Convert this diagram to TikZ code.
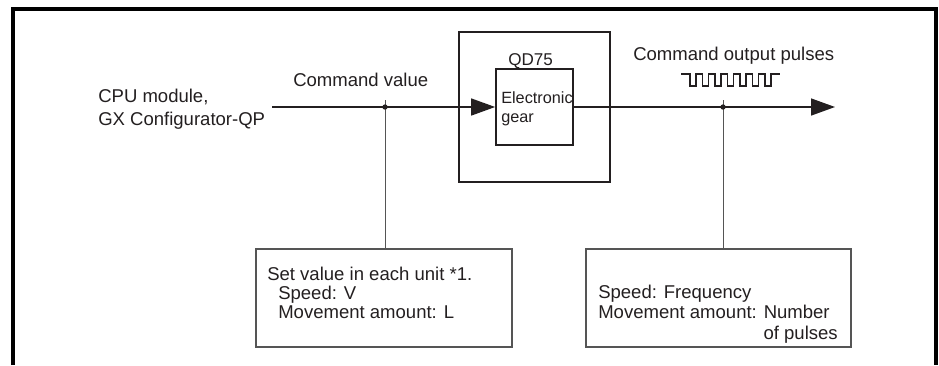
\documentclass[tikz,border=0pt]{standalone}
\usepackage{fontspec}
\setmainfont{Liberation Sans}
\usetikzlibrary{arrows.meta}
\definecolor{ink}{HTML}{231F20}
\definecolor{thin}{HTML}{555555}
\begin{document}
\begin{tikzpicture}[x=0.75pt,y=-0.75pt,
  txt/.style={anchor=base west, inner sep=0pt, text=ink, font=\fontsize{13.9}{16}\selectfont},
  smalltxt/.style={anchor=base west, inner sep=0pt, text=ink, font=\fontsize{12.2}{14}\selectfont},
  boxouter/.style={draw=ink, line width=1.4pt, minimum width=151*0.75pt, minimum height=150*0.75pt, inner sep=0pt},
  boxinner/.style={draw=ink, line width=1.3pt, minimum width=77*0.75pt, minimum height=76*0.75pt, inner sep=0pt},
  notebox/.style={draw=thin, line width=0.8pt, minimum height=98*0.75pt, inner sep=0pt},
  mainline/.style={draw=ink, line width=1.1pt},
  arrowline/.style={mainline, -{Triangle[length=18pt, width=12.75pt]}},
  leader/.style={draw=thin, line width=0.75pt},
  pulse/.style={draw=ink, line width=0.9pt},
  frameline/.style={draw=black, line width=3pt}
]
\useasboundingbox (0,0) rectangle (939,365);

% frame
\draw[frameline] (13,365) -- (13,9) -- (936,9) -- (936,365);

% boxes
\node[boxouter] (qd) at (534.5,107) {};
\node[boxinner] (gear) at (534.5,107) {};
\node[notebox, minimum width=256*0.75pt] (lbox) at (384,298) {};
\node[notebox, minimum width=265*0.75pt] (rbox) at (718.5,298) {};

% coordinates
\coordinate (start) at (272,107);
\coordinate (j1) at (385,107);
\coordinate (j1top) at (385,100);
\coordinate (j2) at (723,107);
\coordinate (j2top) at (723,100);
\coordinate (out) at (835,107);

% main signal lines
\draw[arrowline] (start) -- (gear.west);
\draw[arrowline] (gear.east) -- (out);

% leaders
\draw[leader] (j1top) -- (j1top |- lbox.north);
\draw[leader] (j2top) -- (j2top |- rbox.north);
\fill[ink] (j1) circle (2pt);
\fill[ink] (j2) circle (2pt);

% pulse train
\draw[pulse] (681,74) foreach \i in {0,...,6} { -- ({690+12.5*\i},74) -- ({690+12.5*\i},86) -- ({696+12.5*\i},86) -- ({696+12.5*\i},74) } -- (780,74);

% texts
\node[txt] (cpu1) at (98,102) {CPU module,};
\node[txt] (cpu2) at (98,125) {GX Configurator-QP};
\node[txt] (cmdval) at (293,86) {Command value};
\node[txt] (cmdout) at (633,60) {Command output pulses};
\node[txt, font=\fontsize{12.8}{15}\selectfont] (qdlabel) at (508,65) {QD75};
\node[smalltxt] (gear1) at (501,103) {Electronic};
\node[smalltxt] (gear2) at (501,122) {gear};

\node[txt] (l1) at (267,280) {Set value in each unit *1.};
\node[txt] (l2) at (278,299) {Speed: V};
\node[txt] (l3) at (278,318) {Movement amount: L};

\node[txt] (r1) at (598,298) {Speed: Frequency};
\node[txt] (r2) at (598,318) {Movement amount: Number};
\node[txt, anchor=base east] (r3) at (838,339) {of pulses};
\end{tikzpicture}
\end{document}
